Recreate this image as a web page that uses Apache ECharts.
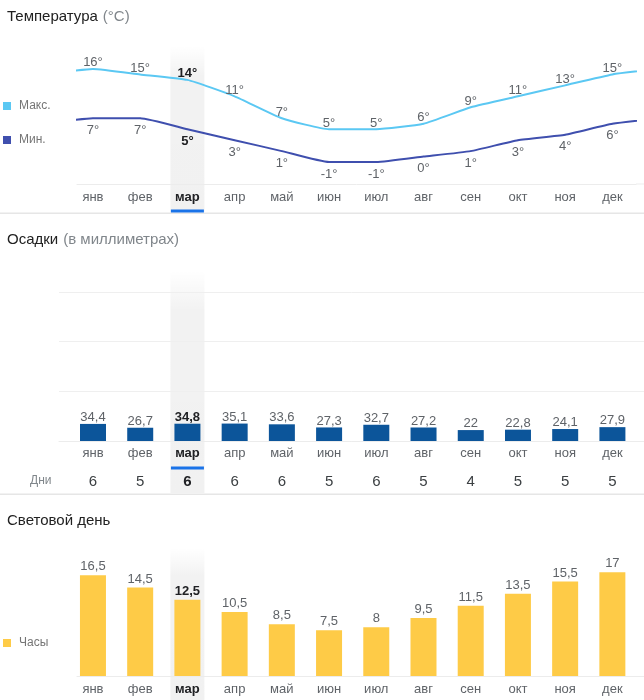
<!DOCTYPE html>
<html><head><meta charset="utf-8">
<script src="https://cdn.jsdelivr.net/npm/echarts@6/dist/echarts.min.js"></script>
<style>html,body{margin:0;padding:0;background:#fff}#c{width:644px;height:700px}</style>
</head><body><div id="c"></div>
<script>
// ---- data ----
const months = ['янв','фев','мар','апр','май','июн','июл','авг','сен','окт','ноя','дек'];
const tempMax = [16,15,14,11,7,5,5,6,9,11,13,15];
const tempMin = [7,7,5,3,1,-1,-1,0,1,3,4,6];
const precip = [34.4,26.7,34.8,35.1,33.6,27.3,32.7,27.2,22,22.8,24.1,27.9];
const rainDays = [6,5,6,6,6,5,6,5,4,5,5,5];
const daylight = [16.5,14.5,12.5,10.5,8.5,7.5,8,9.5,11.5,13.5,15.5,17];
const current = 2;

// ---- styling ----
const FONT = '"Liberation Sans", Arial, sans-serif';
const C_MAX = '#5bc8f3', C_MIN = '#3f4fae', C_RAIN = '#0c559a', C_SUN = '#fecb47';
const C_LABEL = '#5f6368', C_BOLD = '#202124', C_LEG = '#757575';
const idx = months.map((_, i) => i);

function monthFmt(v) { const i = Math.round(v); return i === current ? '{b|' + months[i] + '}' : months[i]; }
function commaFmt(v) { return String(v).replace('.', ','); }

function lineData(arr, pos) {
  const out = [[-1, arr[arr.length - 1]]];
  arr.forEach((v, i) => {
    out.push({ value: [i, v], label: {
      show: true, position: pos, distance: pos === 'top' ? -1 : 5,
      formatter: v + '°', fontSize: 13, fontFamily: FONT,
      color: i === current ? C_BOLD : C_LABEL, fontWeight: i === current ? 'bold' : 'normal'
    }});
  });
  out.push([12, arr[0]]);
  return out;
}
function barData(arr, fmt, dist) {
  return arr.map((v, i) => ({ value: [i, v], label: {
    show: true, position: 'top', distance: dist, formatter: fmt(v), fontSize: 13, fontFamily: FONT,
    color: i === current ? C_BOLD : C_LABEL, fontWeight: i === current ? 'bold' : 'normal'
  }}));
}
function xAx(grid, min, max, extra) {
  return Object.assign({
    type: 'value', gridIndex: grid, min: min, max: max,
    axisLine: { show: true, onZero: false, lineStyle: { color: '#ececec', width: 1 } },
    axisTick: { show: false }, splitLine: { show: false },
    axisLabel: { customValues: idx, formatter: monthFmt, margin: 7, fontSize: 13, fontFamily: FONT, color: C_LABEL,
      rich: { b: { fontWeight: 'bold', color: C_BOLD, fontSize: 13, fontFamily: FONT } } }
  }, extra || {});
}
const titleRich = {
  a: { fontSize: 15, color: '#212121', fontFamily: FONT, fontWeight: 'normal', lineHeight: 18 },
  g: { fontSize: 15, color: '#80868b', fontFamily: FONT, fontWeight: 'normal', lineHeight: 18 }
};

const chart = echarts.init(document.getElementById('c'), null, { renderer: 'canvas' });
const option = {
  animation: false,
  backgroundColor: '#fff',
  textStyle: { fontFamily: FONT },
  title: [
    { text: '{a|Температура} {g|(°C)}', left: 7, top: 8, padding: 0, textStyle: { fontWeight: 'normal', rich: titleRich } },
    { text: '{a|Осадки} {g|(в миллиметрах)}', left: 7, top: 231, padding: 0, textStyle: { fontWeight: 'normal', rich: titleRich } },
    { text: '{a|Световой день}', left: 7, top: 512, padding: 0, textStyle: { fontWeight: 'normal', rich: titleRich } },
    { text: 'Дни', left: 30, top: 475, padding: 0, textStyle: { fontSize: 12, color: '#80868b', fontWeight: 'normal', fontFamily: FONT } }
  ],
  legend: [
    { data: ['Макс.', 'Мин.'], orient: 'vertical', left: 3, top: 100, padding: 0, itemWidth: 8, itemHeight: 8, itemGap: 22,
      icon: 'rect', selectedMode: false, textStyle: { fontSize: 12, color: C_LEG, fontFamily: FONT, padding: [0, 0, 0, 3] } },
    { data: ['Часы'], orient: 'vertical', left: 3, top: 637, padding: 0, itemWidth: 8, itemHeight: 8,
      icon: 'rect', selectedMode: false, textStyle: { fontSize: 12, color: C_LEG, fontFamily: FONT, padding: [0, 0, 0, 3] } }
  ],
  grid: [
    { left: 77, right: 8, top: 47, height: 137 },
    { left: 59, right: 0, top: 292, height: 149 },
    { left: 77, right: 0, top: 554, height: 122 }
  ],
  xAxis: [
    xAx(0, -0.338, 11.5),
    xAx(1, -0.72, 11.669, { axisLabel: { customValues: idx, formatter: monthFmt, margin: 6, fontSize: 13, fontFamily: FONT, color: C_LABEL,
      rich: { b: { fontWeight: 'bold', color: C_BOLD, fontSize: 13, fontFamily: FONT } } } }),
    xAx(1, -0.72, 11.669, { position: 'bottom', offset: 26, axisLine: { show: false },
      axisLabel: { customValues: idx, margin: 7, fontSize: 15, fontFamily: FONT, color: '#3c4043',
        formatter: function (v) { const i = Math.round(v); return i === current ? '{b|' + rainDays[i] + '}' : String(rainDays[i]); },
        rich: { b: { fontWeight: 'bold', color: C_BOLD, fontSize: 15, fontFamily: FONT } } } }),
    xAx(2, -0.338, 11.67)
  ],
  yAxis: [
    { type: 'value', gridIndex: 0, min: -5, max: 20, show: false },
    { type: 'value', gridIndex: 1, min: 0, max: 300, interval: 100,
      axisLine: { show: false }, axisTick: { show: false }, axisLabel: { show: false },
      splitLine: { show: true, lineStyle: { color: '#efefef', width: 1 } } },
    { type: 'value', gridIndex: 2, min: 0, max: 20, show: false }
  ],
  series: [
    { name: 'Макс.', type: 'line', xAxisIndex: 0, yAxisIndex: 0, data: lineData(tempMax, 'top'),
      color: C_MAX, lineStyle: { width: 2, color: C_MAX }, symbol: 'circle', symbolSize: 1, smooth: 0.15, z: 3 },
    { name: 'Мин.', type: 'line', xAxisIndex: 0, yAxisIndex: 0, data: lineData(tempMin, 'bottom'),
      color: C_MIN, lineStyle: { width: 2, color: C_MIN }, symbol: 'circle', symbolSize: 1, smooth: 0.15, z: 3 },
    { name: 'Осадки', type: 'bar', xAxisIndex: 1, yAxisIndex: 1, data: barData(precip, commaFmt, 0),
      barWidth: 26, itemStyle: { color: C_RAIN }, z: 3 },
    { name: 'Часы', type: 'bar', xAxisIndex: 3, yAxisIndex: 2, data: barData(daylight, commaFmt, 2),
      barWidth: 26, itemStyle: { color: C_SUN }, color: C_SUN, z: 3 }
  ]
};
chart.setOption(option);

// highlight column for the current month, positioned through the axes
const bandW = 34;
const xT = chart.convertToPixel({ xAxisIndex: 0 }, current);
const xP = chart.convertToPixel({ xAxisIndex: 1 }, current);
const xD = chart.convertToPixel({ xAxisIndex: 3 }, current);
function band(x, y1, y2) {
  return { type: 'rect', z: -1, silent: true, shape: { x: x - bandW / 2, y: y1, width: bandW, height: y2 - y1 },
    style: { fill: new echarts.graphic.LinearGradient(0, 0, 0, 1, [
      { offset: 0, color: 'rgba(0,0,0,0)' }, { offset: 0.18, color: 'rgba(0,0,0,0.05)' }, { offset: 1, color: 'rgba(0,0,0,0.055)' }]) } };
}
chart.setOption({ graphic: [
  band(xT, 46, 212), band(xP, 270, 493), band(xD, 548, 700),
  { type: 'rect', z: 5, silent: true, shape: { x: xT - 16.5, y: 209.5, width: 33, height: 3 }, style: { fill: '#1a73e8' } },
  { type: 'rect', z: 5, silent: true, shape: { x: xP - 16.5, y: 466.5, width: 33, height: 3 }, style: { fill: '#1a73e8' } },
  { type: 'rect', z: 4, silent: true, shape: { x: 0, y: 212.5, width: 644, height: 1.5 }, style: { fill: '#e6e6e6' } },
  { type: 'rect', z: 4, silent: true, shape: { x: 0, y: 493.5, width: 644, height: 1.5 }, style: { fill: '#e6e6e6' } },
  { type: 'rect', z: 1, silent: true, shape: { x: 636, y: 183.5, width: 8, height: 1 }, style: { fill: '#ececec' } }
]});
</script>
</body></html>
